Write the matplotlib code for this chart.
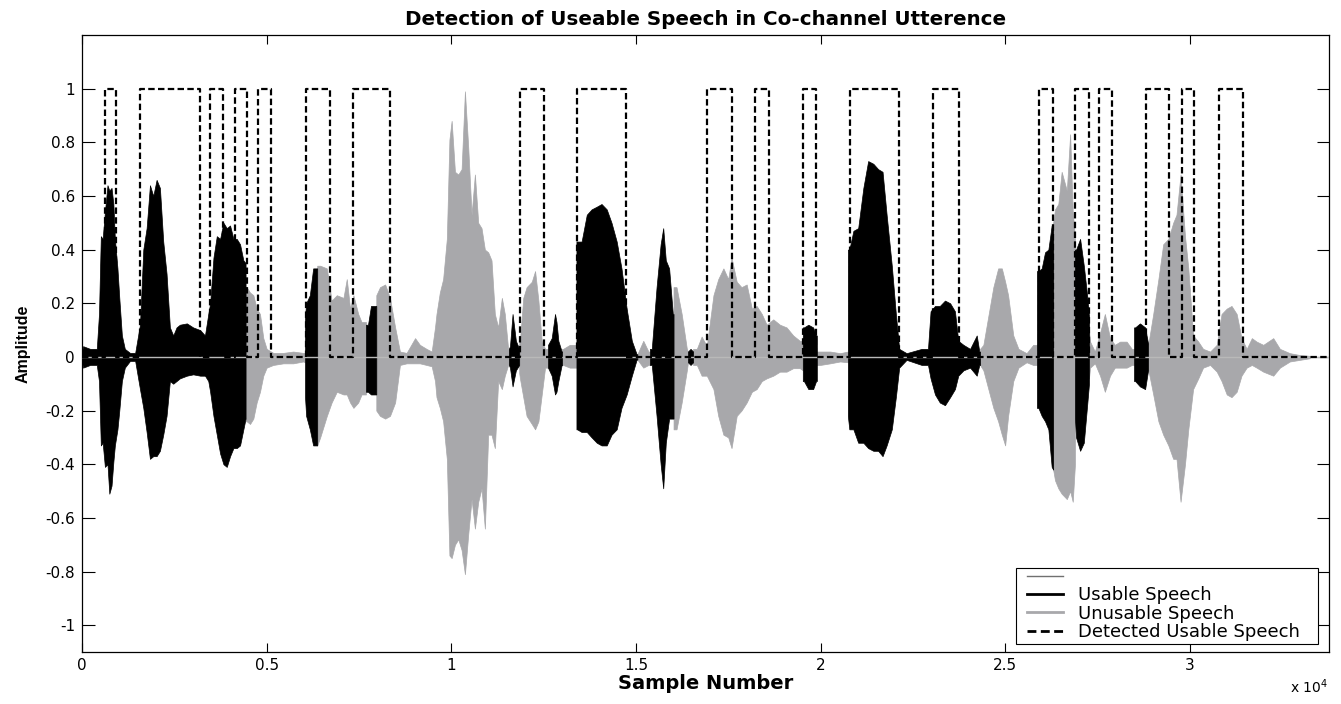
import matplotlib
matplotlib.use('Agg')
import matplotlib.pyplot as plt
from matplotlib.lines import Line2D
from matplotlib.patches import Rectangle
from matplotlib.ticker import FuncFormatter

# ---------------- data ----------------
x_end = 33770

# usable speech (black) bursts: sample positions, upper and lower envelope
usable_x = [
    [0, 30, 220, 400, 460, 510, 560, 620, 690, 740, 800, 850, 890, 960, 1010, 1080, 1160, 1300, 1440, 1520,
     1570, 1660, 1750, 1840, 1930, 2020, 2110, 2200, 2290, 2380, 2470, 2560, 2650, 2840, 3010, 3200, 3330,
     3420, 3470, 3560, 3650, 3740, 3830, 3920, 4010, 4100, 4190, 4280, 4370, 4430],
    [6040, 6070, 6170, 6260, 6340, 6370],
    [7690, 7745, 7826, 7900, 7970],
    [11560, 11590, 11660, 11750, 11840],
    [12620, 12720, 12810, 12850, 12900, 12990, 13000],
    [13390, 13410, 13530, 13670, 13800, 13940, 14070, 14210, 14340, 14480, 14610, 14750, 14890, 15020, 15040],
    [15380, 15430, 15560, 15670, 15740, 15810, 15900, 16000, 16020],
    [16410, 16480, 16550],
    [19520, 19550, 19670, 19800, 19880, 19900],
    [20740, 20780, 20890, 21020, 21160, 21290, 21430, 21560, 21680, 21790, 21930, 22040, 22130, 22330, 22740,
     22910, 22980, 23100, 23230, 23370, 23510, 23640, 23730, 23870, 24050, 24230, 24300, 24320],
    [25860, 25900, 25990, 26080, 26170, 26260, 26300],
    [26890, 26920, 27030, 27130, 27220, 27270],
    [28490, 28520, 28650, 28790, 28870],
]
usable_top = [
    [.02, .04, .03, .03, .16, .45, .44, .54, .64, .62, .63, .57, .44, .33, .22, .08, .03, .015, .015, .08,
     .12, .40, .48, .64, .60, .66, .63, .43, .31, .11, .08, .11, .12, .125, .11, .10, .08,
     .16, .20, .37, .45, .44, .50, .48, .49, .44, .44, .42, .36, .35],
    [.15, .20, .23, .33, .33, .33],
    [.12, .12, .19, .19, .19],
    [.03, .04, .16, .06, .03],
    [.045, .07, .16, .13, .06, .02, .02],
    [.43, .43, .43, .53, .55, .56, .57, .55, .50, .43, .33, .18, .06, .01, .01],
    [.03, .03, .26, .42, .48, .36, .33, .16, .16],
    [.02, .03, .02],
    [.11, .11, .12, .11, .08, .08],
    [.40, .40, .47, .48, .63, .73, .72, .70, .69, .53, .34, .16, .03, .014, .03,
     .03, .17, .19, .19, .21, .20, .17, .06, .045, .03, .08, .02, .02],
    [.32, .32, .33, .39, .40, .49, .49],
    [.40, .40, .44, .34, .23, .15],
    [.11, .11, .125, .11, .05],
]
usable_bot = [
    [-.02, -.04, -.03, -.03, -.09, -.33, -.32, -.41, -.40, -.51, -.48, -.39, -.33, -.27, -.20, -.09, -.04, -.015,
     -.015, -.08, -.12, -.19, -.28, -.38, -.37, -.37, -.35, -.29, -.22, -.09, -.10, -.09, -.08, -.07, -.065,
     -.07, -.07, -.09, -.13, -.22, -.29, -.36, -.40, -.41, -.37, -.34, -.34, -.33, -.27, -.23],
    [-.15, -.22, -.27, -.33, -.33, -.33],
    [-.13, -.13, -.14, -.14, -.14],
    [-.03, -.04, -.11, -.05, -.03],
    [-.04, -.07, -.14, -.13, -.09, -.03, -.03],
    [-.27, -.27, -.28, -.28, -.30, -.32, -.33, -.33, -.29, -.27, -.19, -.14, -.07, -.01, -.01],
    [-.03, -.03, -.22, -.40, -.49, -.32, -.23, -.23, -.23],
    [-.02, -.03, -.02],
    [-.09, -.09, -.12, -.12, -.09, -.09],
    [-.22, -.27, -.27, -.32, -.32, -.34, -.35, -.35, -.37, -.33, -.27, -.15, -.04, -.011, -.03,
     -.03, -.08, -.14, -.17, -.18, -.15, -.12, -.07, -.05, -.04, -.07, -.03, -.03],
    [-.19, -.19, -.22, -.24, -.27, -.41, -.42],
    [-.23, -.30, -.35, -.32, -.18, -.10],
    [-.09, -.09, -.11, -.12, -.05],
]

# unusable speech (grey) bursts
unusable_x = [
    [4430, 4460, 4550, 4640, 4730, 4820, 4910, 5000, 5180, 5450, 5720, 5990, 6040],
    [6370, 6450, 6630, 6760, 6900, 7080, 7170, 7260, 7350, 7480, 7570, 7690],
    [7970, 8070, 8210, 8340, 8480, 8610, 8790, 9020, 9150, 9330, 9470, 9560, 9600, 9690, 9780, 9880, 9950,
     10010, 10100, 10190, 10280, 10370, 10460, 10550, 10640, 10730, 10820, 10910, 11000, 11090, 11180, 11270,
     11370, 11450, 11540, 11560],
    [11840, 11860, 11950, 12040, 12180, 12270, 12360, 12450, 12540, 12620],
    [13000, 13030, 13210, 13350, 13390],
    [15040, 15200, 15340, 15380],
    [16020, 16100, 16240, 16380, 16410],
    [16550, 16650, 16780, 16920, 17100, 17230, 17370, 17500, 17590, 17730, 17860, 18000, 18140, 18270, 18410,
     18540, 18720, 18900, 19080, 19260, 19440, 19520],
    [19900, 19990, 20260, 20530, 20740],
    [24320, 24410, 24680, 24810, 24910, 25000, 25080, 25220, 25360, 25580, 25760, 25860],
    [26300, 26350, 26440, 26530, 26670, 26760, 26830, 26890],
    [27270, 27300, 27430, 27570, 27700, 27840, 27970, 28110, 28290, 28430, 28490],
    [28870, 28880, 29010, 29150, 29280, 29420, 29550, 29640, 29750, 29870, 29960, 30090, 30230, 30360, 30550,
     30730, 30860, 31000, 31130, 31270, 31400, 31540, 31680, 31810, 31990, 32260, 32440, 32710, 32980, 33250],
]
unusable_top = [
    [.26, .26, .24, .23, .18, .16, .07, .03, .015, .015, .02, .015, .015],
    [.34, .34, .33, .21, .23, .22, .29, .18, .23, .16, .13, .13],
    [.23, .26, .27, .22, .11, .02, .015, .07, .045, .03, .02, .11, .16, .24, .29, .44, .81,
     .88, .69, .68, .70, .99, .78, .53, .68, .50, .48, .40, .39, .36, .16, .11,
     .22, .16, .03, .03],
    [.05, .06, .22, .26, .28, .32, .21, .06, .03, .03],
    [.03, .03, .045, .045, .045],
    [.01, .06, .02, .02],
    [.26, .26, .16, .03, .02],
    [.03, .03, .076, .04, .23, .29, .33, .29, .37, .28, .26, .27, .18, .19, .16,
     .12, .14, .12, .11, .08, .06, .06],
    [.02, .02, .02, .014, .02],
    [.03, .045, .26, .33, .33, .28, .23, .08, .03, .014, .045, .045],
    [.50, .55, .57, .69, .62, .83, .54, .45],
    [.10, .057, .02, .09, .16, .07, .045, .057, .057, .03, .03],
    [.05, .05, .16, .29, .42, .44, .50, .53, .68, .45, .33, .08, .057, .03, .02,
     .045, .16, .18, .19, .16, .07, .03, .07, .057, .045, .07, .03, .014, .007, .004],
]
unusable_bot = [
    [-.24, -.24, -.25, -.23, -.17, -.13, -.07, -.04, -.03, -.024, -.024, -.017, -.02],
    [-.33, -.30, -.22, -.17, -.13, -.14, -.14, -.17, -.19, -.17, -.14, -.14],
    [-.20, -.22, -.23, -.22, -.17, -.03, -.024, -.024, -.024, -.03, -.035, -.09, -.15, -.19, -.24, -.38, -.74,
     -.75, -.70, -.68, -.72, -.81, -.66, -.53, -.64, -.54, -.49, -.64, -.29, -.29, -.34, -.09,
     -.12, -.07, -.03, -.03],
    [-.06, -.08, -.15, -.22, -.25, -.27, -.24, -.14, -.04, -.04],
    [-.03, -.03, -.04, -.04, -.04],
    [-.01, -.04, -.03, -.03],
    [-.27, -.27, -.17, -.05, -.02],
    [-.03, -.03, -.07, -.07, -.12, -.22, -.29, -.30, -.34, -.22, -.20, -.17, -.13, -.12, -.09,
     -.08, -.07, -.055, -.055, -.042, -.042, -.05],
    [-.03, -.03, -.024, -.017, -.02],
    [-.03, -.05, -.19, -.24, -.29, -.33, -.22, -.09, -.04, -.02, -.03, -.03],
    [-.42, -.46, -.49, -.51, -.53, -.50, -.54, -.40],
    [-.08, -.04, -.024, -.07, -.13, -.07, -.04, -.04, -.04, -.03, -.03],
    [-.05, -.05, -.14, -.24, -.29, -.33, -.38, -.38, -.54, -.40, -.27, -.12, -.08, -.04, -.03,
     -.055, -.09, -.14, -.15, -.13, -.07, -.04, -.03, -.04, -.055, -.07, -.04, -.017, -.011, -.005],
]

# detected usable speech: start / end samples of each detection
det_on = [620, 1570, 3470, 4140, 4770, 6070, 7340, 11860, 13400, 16920, 18220, 19520, 20800, 23040,
          25910, 26890, 27540, 28810, 29790, 30790]
det_off = [920, 3200, 3820, 4470, 5120, 6720, 8340, 12510, 14730, 17600, 18600, 19880, 22120, 23750,
           26290, 27270, 27890, 29440, 30110, 31440]

x_ticks = [0, 5000, 10000, 15000, 20000, 25000, 30000]
y_ticks = [-1, -0.8, -0.6, -0.4, -0.2, 0, 0.2, 0.4, 0.6, 0.8, 1]
legend_labels = ['', 'Usable Speech', 'Unusable Speech', 'Detected Usable Speech']

# ---------------- styling ----------------
BLACK = '#000000'
GRAY = '#a8a8ab'
ZERO_GRAY = '#b9b9b9'
W, H = 1341, 704

fig = plt.figure(figsize=(W / 100, H / 100), dpi=100)
ax = fig.add_axes([82 / W, 1 - 652 / H, (1329 - 82) / W, (652 - 35) / H])

for xs, tp, bt in zip(unusable_x, unusable_top, unusable_bot):
    ax.fill_between(xs, bt, tp, color=GRAY, lw=0.5, zorder=2)
for xs, tp, bt in zip(usable_x, usable_top, usable_bot):
    ax.fill_between(xs, bt, tp, color=BLACK, lw=0.5, zorder=3)

ax.axhline(0, color=ZERO_GRAY, lw=1.0, zorder=4)

det_x = [0]
det_y = [0]
for on, off in zip(det_on, det_off):
    det_x += [on, on, off, off]
    det_y += [0, 1, 1, 0]
det_x.append(x_end)
det_y.append(0)
ax.plot(det_x, det_y, color=BLACK, lw=1.6, dashes=(2.9, 1.5), zorder=5)

ax.set_xlim(0, x_end)
ax.set_ylim(-1.1, 1.2)
ax.set_xticks(x_ticks)
ax.set_yticks(y_ticks)
ax.xaxis.set_major_formatter(FuncFormatter(lambda v, p: f"{v / 1e4:g}"))
ax.yaxis.set_major_formatter(FuncFormatter(lambda v, p: f"{round(v, 1) + 0:g}"))
ax.tick_params(axis='both', direction='in', top=True, right=True, width=0.8, labelsize=11)
ax.tick_params(axis='x', length=6.5, pad=4.5)
ax.tick_params(axis='y', length=9, pad=5)
for sp in ax.spines.values():
    sp.set_linewidth(0.9)

ax.set_title('Detection of Useable Speech in Co-channel Utterence', fontsize=14.3,
             fontweight='bold', pad=7)
ax.set_xlabel('Sample Number', fontsize=14, fontweight='bold')
ax.xaxis.set_label_coords(0.5, -0.036)
ax.set_ylabel('Amplitude', fontsize=11.5, fontweight='bold', family=['Liberation Sans', 'DejaVu Sans'])
ax.yaxis.set_label_coords(-0.041, 0.5)
ax.text(0.999, -0.066, r'x 10$^{4}$', transform=ax.transAxes, ha='right', va='baseline', fontsize=10)

# legend: box drawn separately so that its side padding can be wider than its top padding
box = Rectangle((1016 / W, 1 - 644 / H), 302 / W, 76 / H, transform=fig.transFigure,
                facecolor='white', edgecolor='k', lw=0.8, zorder=6, clip_on=False)
ax.add_patch(box)
handles = [Line2D([], [], color='#707070', lw=1),
           Line2D([], [], color=BLACK, lw=2),
           Line2D([], [], color=GRAY, lw=2),
           Line2D([], [], color=BLACK, lw=2, dashes=(3.2, 1.6))]
leg = ax.legend(handles, legend_labels, loc='upper left', bbox_to_anchor=(1027 / W, 1 - 568 / H),
                bbox_transform=fig.transFigure, borderaxespad=0, fontsize=13, frameon=False,
                handlelength=2.0, handletextpad=0.8, labelspacing=0.02, borderpad=0)
leg.set_zorder(7)

fig.savefig('out.png', dpi=100)
